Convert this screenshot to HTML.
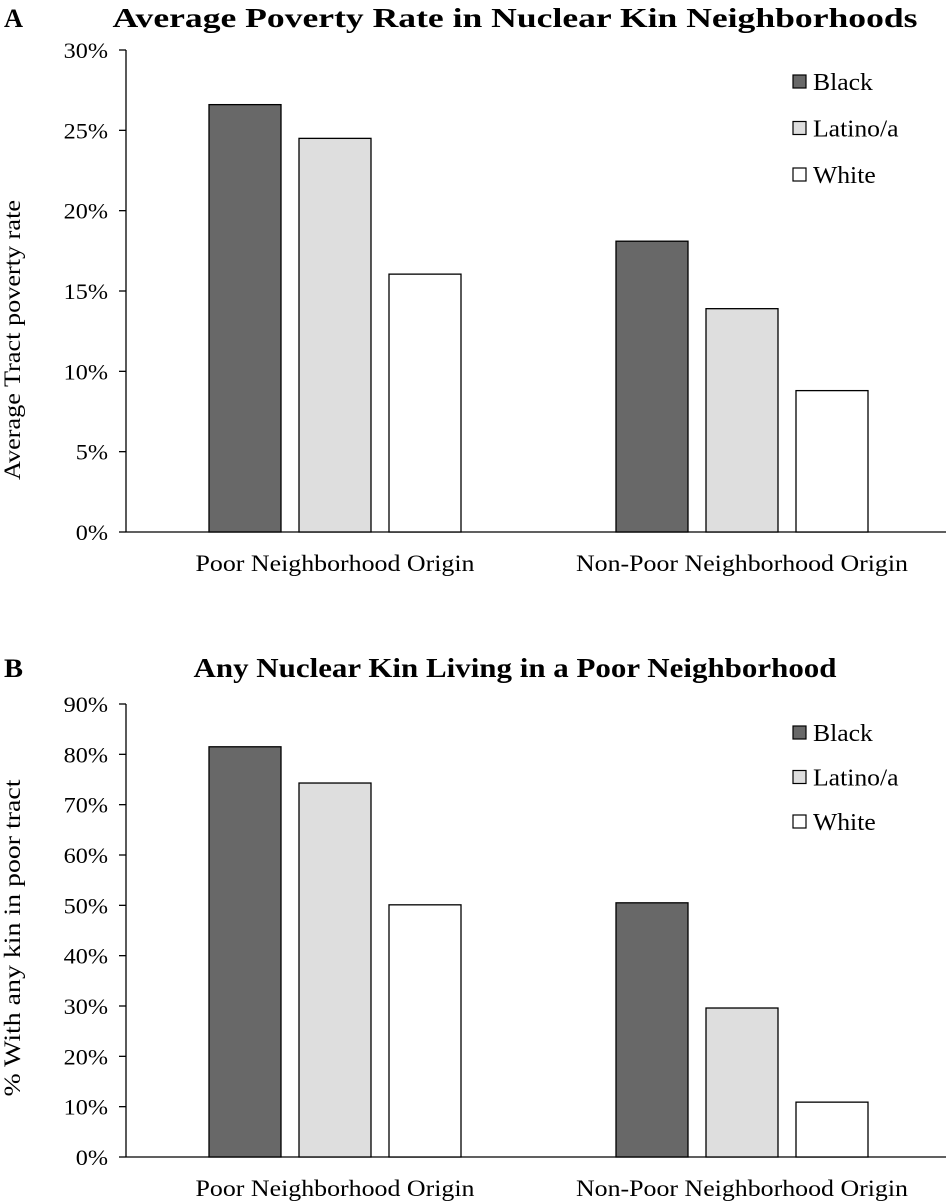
<!DOCTYPE html>
<html><head><meta charset="utf-8">
<style>
body{margin:0;background:#fff;}
svg{display:block;font-family:"Liberation Serif",serif;}
</style></head>
<body>
<svg id="chart" width="946" height="1202" xmlns="http://www.w3.org/2000/svg"></svg>
<script>
const categories = ["Poor Neighborhood Origin","Non-Poor Neighborhood Origin"];
const seriesNames = ["Black","Latino/a","White"];
const seriesColors = ["#686868","#dedede","#ffffff"];
const aBlack = [26.6, 18.1];
const aLatino = [24.5, 13.9];
const aWhite = [16.05, 8.8];
const aTicks = [0,5,10,15,20,25,30];
const bBlack = [81.5, 50.5];
const bLatino = [74.3, 29.6];
const bWhite = [50.1, 10.9];
const bTicks = [0,10,20,30,40,50,60,70,80,90];

const NS="http://www.w3.org/2000/svg";
const svg=document.getElementById('chart');
function mk(tag,attrs,parent){const e=document.createElementNS(NS,tag);for(const k in attrs)e.setAttribute(k,attrs[k]);(parent||svg).appendChild(e);return e;}
function stxt(g,x,y,size,sx,anchor,str){
  const t=mk('text',{x:0,y:0,'font-size':size,'text-anchor':anchor,transform:`translate(${x},${y}) scale(${sx},1)`},g);
  t.textContent=str;return t;
}

function panel(cfg){
  const g=mk('g',{});
  
  
  const y=v=>cfg.y0-(v-cfg.tmin)/(cfg.tmax-cfg.tmin)*(cfg.y0-cfg.y1);
  const letter=mk('text',{x:4,y:cfg.titleY,'font-size':26,'font-weight':'bold',textLength:19,lengthAdjust:'spacingAndGlyphs'},g);letter.textContent=cfg.letter;
  
  
  const t=mk('text',{x:515,y:cfg.titleY,'font-size':27,'font-weight':'bold','text-anchor':'middle',textLength:cfg.titleLen,lengthAdjust:'spacingAndGlyphs'},g);t.textContent=cfg.title;
  
  
  mk('line',{x1:126,y1:cfg.y1,x2:126,y2:cfg.y0,stroke:'#000','stroke-width':1.3},g);
  mk('line',{x1:126,y1:cfg.y0,x2:946,y2:cfg.y0,stroke:'#000','stroke-width':1.3},g);
  cfg.ticks.forEach(v=>{
    mk('line',{x1:119,y1:y(v),x2:126,y2:y(v),stroke:'#000','stroke-width':1.3},g);
    const tl=stxt(g,108,y(v)+8,22,1.1,'end',v+'%');
    
    
  });
  const yt=mk('text',{transform:`translate(20,${cfg.ytY}) rotate(-90)`,'font-size':23,'text-anchor':'middle',textLength:cfg.ytLen,lengthAdjust:'spacingAndGlyphs'},g);yt.textContent=cfg.ytitle;
  
  
  const groupX=[209,616];
  const catLen=[279,332];
  cfg.series.forEach((s,si)=>{
    categories.forEach((c,ci)=>{
      const x=groupX[ci]+si*90;
      const r=mk('rect',{x:x,y:y(s[ci]),width:72,height:cfg.y0-y(s[ci]),fill:seriesColors[si],stroke:'#000','stroke-width':1.3},g);
      
      
    });
  });
  categories.forEach((c,ci)=>{
    const cl=mk('text',{x:groupX[ci]+126,y:cfg.y0+39,'font-size':23,'text-anchor':'middle',textLength:catLen[ci],lengthAdjust:'spacingAndGlyphs'},g);cl.textContent=c;
    
    
  });
  seriesNames.forEach((n,i)=>{
    const ly=cfg.legY+i*cfg.legStep;
    const sq=mk('rect',{x:793,y:ly-7,width:13,height:13,fill:seriesColors[i],stroke:'#000','stroke-width':1.2},g);
    
    
    const lt=stxt(g,813,ly+8,24,1.07,'start',n);
    
    
  });
}
panel({name:'panel-a',letter:'A',title:'Average Poverty Rate in Nuclear Kin Neighborhoods',titleLen:805,titleY:27,y0:532,y1:50,tmin:0,tmax:30,ticks:aTicks,ytitle:'Average Tract poverty rate',ytY:340,ytLen:280,series:[aBlack,aLatino,aWhite],legY:82,legStep:46.5});
panel({name:'panel-b',letter:'B',title:'Any Nuclear Kin Living in a Poor Neighborhood',titleLen:643,titleY:677,y0:1157,y1:704,tmin:0,tmax:90,ticks:bTicks,ytitle:'% With any kin in poor tract',ytY:938,ytLen:317,series:[bBlack,bLatino,bWhite],legY:733,legStep:44.5});
</script>
</body></html>
